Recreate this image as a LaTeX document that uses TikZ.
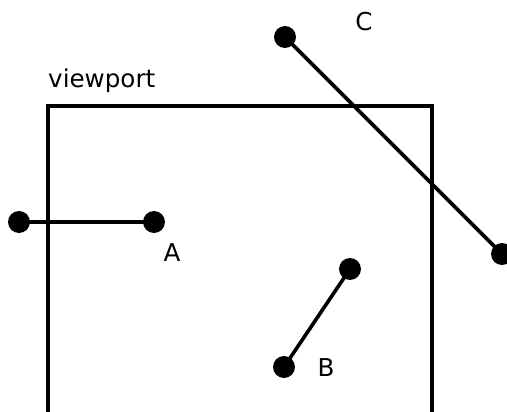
\documentclass[tikz,border=0pt]{standalone}
\usepackage{fontspec}
\setmainfont{DejaVu Sans}
\begin{document}
\begin{tikzpicture}[x=1pt,y=-1pt,
  seg/.style={line width=3.6pt},
  dot/.style={circle,fill=black,inner sep=0pt,minimum size=22pt},
  lbl/.style={font=\fontsize{24.6}{28}\selectfont,inner sep=0pt}]
\useasboundingbox (0,0) rectangle (507,412);
\begin{scope}
\clip (0,0) rectangle (507,412);
\draw[seg] (48,430) -- (48,106) -- (432,106) -- (432,430);
\node[dot] (a1) at (19,222) {};
\node[dot] (a2) at (154,222) {};
\node[dot] (c1) at (285,37) {};
\node[dot] (c2) at (502,254) {};
\node[dot] (b1) at (350,269) {};
\node[dot] (b2) at (284,367) {};
\draw[seg] (a1.center) -- (a2.center);
\draw[seg] (c1.center) -- (c2.center);
\draw[seg] (b1.center) -- (b2.center);
\end{scope}
\node[lbl,anchor=base west] (vp) at (48,88) {viewport};
\node[lbl] (la) at (172,253) {A};
\node[lbl] (lb) at (326,368) {B};
\node[lbl] (lc) at (364,22) {C};
\end{tikzpicture}
\end{document}
